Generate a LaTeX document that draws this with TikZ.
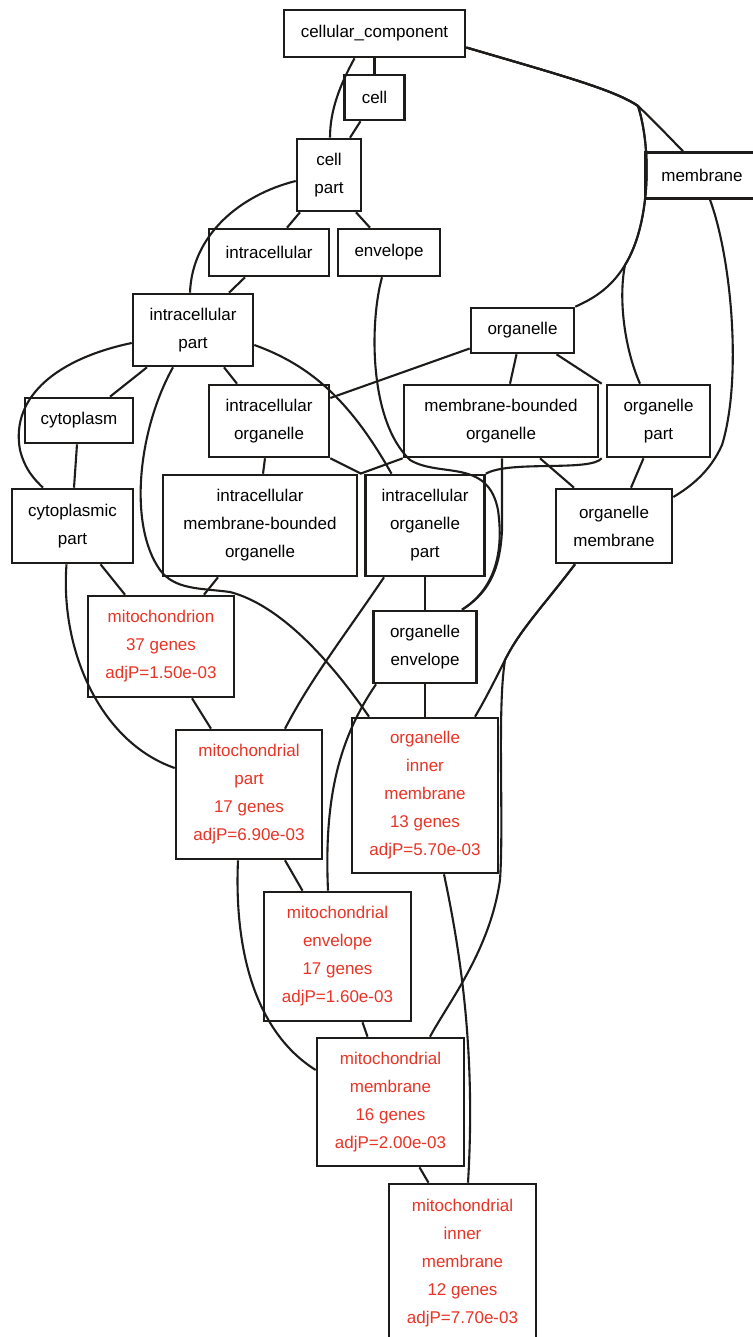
\documentclass[tikz,border=0pt]{standalone}
\usepackage{fontspec}
\setmainfont{Liberation Sans}
\usepackage{tikz}
\usetikzlibrary{positioning,calc}
\definecolor{SigRed}{RGB}{232, 52, 38}
\definecolor{EdgeGray}{RGB}{30, 28, 26}

\begin{document}
\begin{tikzpicture}[x=1pt, y=-1pt,
  term/.style={draw=EdgeGray, line width=2.6pt, fill=white, inner sep=0pt, align=center,
    font=\fontsize{17}{28}\selectfont},
  sig/.style={term, text=SigRed},
  link/.style={EdgeGray, line width=2.1pt}]
  \useasboundingbox[fill=white] (0,0) rectangle (752,1337);

  % Upper levels
  \node[term, minimum width=181pt, minimum height=47pt] (cc) at (374.5,33.5) {cellular\_component};
  \node[term, minimum width=60pt, minimum height=45pt] (cell) at (374.5,97.5) {cell};
  \node[term, minimum width=64pt, minimum height=72pt] (cellpart) at (329,175) {cell\\part};
  \node[term, minimum width=114pt, minimum height=46pt] (membrane) at (702,175.5) {membrane};
  \node[term, minimum width=120pt, minimum height=47pt] (intracell) at (269,252.5) {intracellular};
  \node[term, minimum width=102pt, minimum height=47pt] (envelope) at (389,252.5) {envelope};
  \node[term, minimum width=120pt, minimum height=72pt] (ipart) at (193,330) {intracellular\\part};
  \node[term, minimum width=103pt, minimum height=45pt] (organelle) at (522.5,330.5) {organelle};

  % Middle levels
  \node[term, minimum width=108pt, minimum height=45pt] (cytoplasm) at (79,420.5) {cytoplasm};
  \node[term, minimum width=120pt, minimum height=72pt] (iorg) at (269,421) {intracellular\\organelle};
  \node[term, minimum width=194pt, minimum height=72pt] (mbo) at (501,421) {membrane-bounded\\organelle};
  \node[term, minimum width=103pt, minimum height=72pt] (opart) at (658.5,421) {organelle\\part};
  \node[term, minimum width=121pt, minimum height=74pt] (cpart) at (72.5,526) {cytoplasmic\\part};
  \node[term, minimum width=194pt, minimum height=101pt] (imbo) at (260,525.5) {intracellular\\membrane-bounded\\organelle};
  \node[term, minimum width=119pt, minimum height=101pt] (iop) at (425,525.5) {intracellular\\organelle\\part};
  \node[term, minimum width=116pt, minimum height=74pt] (omem) at (614,526) {organelle\\membrane};
  \node[term, minimum width=103pt, minimum height=72pt] (oenv) at (425,647) {organelle\\envelope};

  % Enriched terms
  \node[sig, minimum width=146pt, minimum height=101pt] (mito) at (161,646.5) {mitochondrion\\37 genes\\adjP=1.50e-03};
  \node[sig, minimum width=146pt, minimum height=129pt] (mpart) at (249,794.5) {mitochondrial\\part\\17 genes\\adjP=6.90e-03};
  \node[sig, minimum width=146pt, minimum height=155pt] (oim) at (425,795.5) {organelle\\inner\\membrane\\13 genes\\adjP=5.70e-03};
  \node[sig, minimum width=147pt, minimum height=129pt] (menv) at (337.5,956.5) {mitochondrial\\envelope\\17 genes\\adjP=1.60e-03};
  \node[sig, minimum width=147pt, minimum height=128pt] (mmem) at (390.5,1102) {mitochondrial\\membrane\\16 genes\\adjP=2.00e-03};
  \node[sig, minimum width=147pt, minimum height=158pt] (mim) at (462.5,1263) {mitochondrial\\inner\\membrane\\12 genes\\adjP=7.70e-03};

  % Edges from the root
  \draw[link] (cc.south) -- (cell.north);
  \draw[link] ([xshift=-20pt]cc.south) .. controls (340,85) and (330,110) .. ([xshift=1pt]cellpart.north);
  \draw[link] ([xshift=-14pt]cell.south) -- ([xshift=21pt]cellpart.north);
  \draw[link] ([yshift=-14pt]cc.east) .. controls (560,75) and (615,90) .. (638,106)
    .. controls (655,122) and (668,136) .. ([xshift=-19pt]membrane.north);
  \draw[link] ([yshift=-14pt]cc.east) .. controls (560,75) and (615,90) .. (638,106)
    .. controls (652,150) and (650,225) .. (625,265) .. controls (610,290) and (590,300) .. (organelle.north east);
  \draw[link] ([yshift=-14pt]cc.east) .. controls (560,75) and (615,90) .. (638,106)
    .. controls (652,150) and (650,225) .. (625,265) .. controls (618,300) and (625,350) .. ([xshift=-18.5pt]opart.north);

  % cell part and below
  \draw[link] ([xshift=-29pt]cellpart.south) -- ([xshift=18pt]intracell.north);
  \draw[link] ([xshift=27pt]cellpart.south) -- ([xshift=-19pt]envelope.north);
  \draw[link] ([yshift=-6pt]cellpart.west) .. controls (240,195) and (192,235) .. ([xshift=-3pt]ipart.north);
  \draw[link] ([xshift=-24pt]intracell.south) -- ([xshift=36pt]ipart.north);
  \draw[link] ([xshift=-7pt]envelope.south) .. controls (370,320) and (368,420) .. (410,460)
    .. controls (440,478) and (488,458) .. (498,510) .. controls (505,560) and (490,592) .. ([xshift=37pt]oenv.north);

  % intracellular part
  \draw[link] ([xshift=-46pt]ipart.south) -- ([xshift=31pt]cytoplasm.north);
  \draw[link] ([yshift=-13pt]ipart.west) .. controls (60,358) and (10,395) .. (20,450)
    .. controls (25,470) and (35,480) .. ([xshift=-29.5pt]cpart.north);
  \draw[link] ([xshift=31pt]ipart.south) -- ([xshift=-32pt]iorg.north);
  \draw[link] ([yshift=-15pt]ipart.east) .. controls (310,365) and (350,400) .. ([xshift=-33.5pt]iop.north);
  \draw[link] ([xshift=-20pt]ipart.south) .. controls (138,430) and (128,525) .. (160,570)
    .. controls (175,590) and (200,588) .. (230,592) .. controls (280,605) and (330,660) .. ([xshift=-56pt]oim.north);
  \draw[link] ([xshift=-2pt]cytoplasm.south) -- ([xshift=1.5pt]cpart.north);

  % organelle branch
  \draw[link] ([yshift=-18pt]organelle.west) -- ([yshift=23pt]iorg.east);
  \draw[link] ([xshift=-6pt]organelle.south) -- ([xshift=9pt]mbo.north);
  \draw[link] ([xshift=34pt]organelle.south) -- ([xshift=-4pt]opart.north west);
  \draw[link] ([xshift=-4pt]iorg.south) -- ([xshift=3pt]imbo.north);
  \draw[link] (iorg.south east) -- ([xshift=-3pt]iop.north west);
  \draw[link] (mbo.south west) -- ([xshift=2pt]imbo.north east);
  \draw[link] ([xshift=1pt]mbo.south) -- (502,530) .. controls (500,575) and (485,595) .. ([xshift=37pt]oenv.north);
  \draw[link] ([xshift=-4pt]opart.south west) .. controls (590,472) and (510,460) .. (iop.north east);
  \draw[link] ([xshift=39pt]mbo.south) -- ([xshift=-40pt]omem.north);
  \draw[link] ([xshift=-15pt]opart.south) -- ([xshift=17pt]omem.north);
  \draw[link] ([xshift=8pt]membrane.south) .. controls (732,260) and (742,380) .. (722,445)
    .. controls (710,472) and (690,487) .. ([yshift=29pt]omem.east);

  % Lower levels
  \draw[link] ([xshift=-42pt]imbo.south) -- ([xshift=43pt]mito.north);
  \draw[link] ([xshift=28pt]cpart.south) -- ([xshift=-36pt]mito.north);
  \draw[link] ([xshift=-6pt]cpart.south) .. controls (60,650) and (100,742) .. ([yshift=26.5pt]mpart.west);
  \draw[link] ([xshift=31pt]mito.south) -- ([xshift=-38pt]mpart.north);
  \draw[link] ([xshift=-41pt]iop.south) .. controls (345,635) and (310,680) .. ([xshift=36pt]mpart.north);
  \draw[link] (iop.south) -- (oenv.north);
  \draw[link] (oenv.south) -- (oim.north);
  \draw[link] ([xshift=-49pt]oenv.south) .. controls (338,740) and (324,800) .. ([xshift=-9.5pt]menv.north);
  \draw[link] ([xshift=-39pt]omem.south) .. controls (540,610) and (520,630) .. (505,660)
    .. controls (495,680) and (485,700) .. ([xshift=50pt]oim.north);
  \draw[link] ([xshift=-39pt]omem.south) .. controls (540,610) and (520,630) .. (505,660)
    .. controls (497,710) and (504,820) .. (500,880) .. controls (490,950) and (450,1000) .. ([xshift=39.5pt]mmem.north);
  \draw[link] ([xshift=36pt]mpart.south) -- ([xshift=-35pt]menv.north);
  \draw[link] ([xshift=-11pt]mpart.south) .. controls (234,950) and (255,1032) .. ([yshift=32pt]mmem.west);
  \draw[link] ([xshift=19pt]oim.south) .. controls (460,950) and (476,1050) .. ([xshift=5.5pt]mim.north);
  \draw[link] ([xshift=25pt]menv.south) -- ([xshift=-23pt]mmem.north);
  \draw[link] ([xshift=29pt]mmem.south) -- ([xshift=-34pt]mim.north);
\end{tikzpicture}
\end{document}
